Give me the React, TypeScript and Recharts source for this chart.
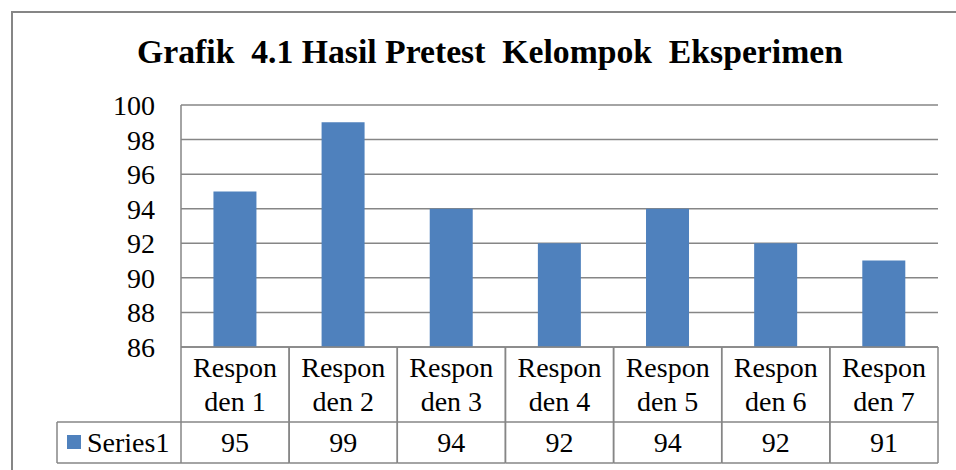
import React from "react";
import { BarChart, Bar, XAxis, YAxis, CartesianGrid } from "recharts";

const title = "Grafik  4.1 Hasil Pretest  Kelompok  Eksperimen";
const categories = [
  "Responden 1",
  "Responden 2",
  "Responden 3",
  "Responden 4",
  "Responden 5",
  "Responden 6",
  "Responden 7",
];
const categoryLabelLines = [
  ["Respon", "den 1"],
  ["Respon", "den 2"],
  ["Respon", "den 3"],
  ["Respon", "den 4"],
  ["Respon", "den 5"],
  ["Respon", "den 6"],
  ["Respon", "den 7"],
];
const seriesName = "Series1";
const series1 = [95, 99, 94, 92, 94, 92, 91];
const yTicks = [86, 88, 90, 92, 94, 96, 98, 100];

const data = categories.map((c, i) => ({ category: c, value: series1[i] }));

const W = 956;
const H = 470;
const Y_AXIS_W = 181;
const X_AXIS_H = 123;
const MARGIN = { top: 105, right: 18, bottom: 0, left: 0 };
const PLOT_W = W - MARGIN.left - MARGIN.right - Y_AXIS_W;
const FONT = "'Liberation Serif', 'Times New Roman', serif";
const LINE = "#868686";
const BAR = "#4F81BD";
const FS = 28;

const YTick = (props: any) => {
  const { x, y, payload } = props;
  return (
    <text x={x} y={y + 10} textAnchor="end" fontFamily={FONT} fontSize={FS} fill="#000">
      {payload.value}
    </text>
  );
};

const XTick = (props: any) => {
  const { x, y, index } = props;
  const cellW = PLOT_W / categories.length;
  const left = x - cellW / 2;
  const right = x + cellW / 2;
  const r1 = y + 75;
  const r2 = y + 116;
  const lines = categoryLabelLines[index] || [];
  const legendW = 124;
  return (
    <g>
      <line x1={left} y1={y} x2={right} y2={y} stroke={LINE} strokeWidth={1.5} />
      <line x1={left} y1={r1} x2={right} y2={r1} stroke={LINE} strokeWidth={1.5} />
      <line x1={left} y1={r2} x2={right} y2={r2} stroke={LINE} strokeWidth={1.5} />
      <line x1={left} y1={y} x2={left} y2={r2} stroke={LINE} strokeWidth={1.5} />
      <line x1={right} y1={y} x2={right} y2={r2} stroke={LINE} strokeWidth={1.5} />
      <text x={x} y={y + 30} textAnchor="middle" fontFamily={FONT} fontSize={FS} fill="#000">
        {lines[0]}
      </text>
      <text x={x} y={y + 64} textAnchor="middle" fontFamily={FONT} fontSize={FS} fill="#000">
        {lines[1]}
      </text>
      <text x={x} y={y + 105} textAnchor="middle" fontFamily={FONT} fontSize={FS} fill="#000">
        {series1[index]}
      </text>
      {index === 0 && (
        <g>
          <line x1={left - legendW} y1={r1} x2={left} y2={r1} stroke={LINE} strokeWidth={1.5} />
          <line x1={left - legendW} y1={r2} x2={left} y2={r2} stroke={LINE} strokeWidth={1.5} />
          <line x1={left - legendW} y1={r1} x2={left - legendW} y2={r2} stroke={LINE} strokeWidth={1.5} />
          <rect x={left - legendW + 10} y={r1 + 13} width={14} height={14} fill={BAR} />
          <text x={left - legendW + 30} y={y + 105} fontFamily={FONT} fontSize={FS} fill="#000">
            {seriesName}
          </text>
        </g>
      )}
    </g>
  );
};

export default function App() {
  return (
    <div style={{ position: "relative", width: W, height: H, overflow: "hidden", background: "#fff" }}>
      <style>{"html,body{margin:0;padding:0;overflow:hidden;}"}</style>
      <div style={{ position: "absolute", left: 11, top: 11, width: W, height: 1.5, background: LINE }} />
      <div style={{ position: "absolute", left: 11, top: 11, width: 1.5, height: H, background: LINE }} />
      <div
        style={{
          position: "absolute",
          left: 490 - 400,
          width: 800,
          top: 32,
          textAlign: "center",
          fontFamily: FONT,
          fontWeight: "bold",
          fontSize: 33.7,
          lineHeight: "40px",
          color: "#000",
          whiteSpace: "pre",
        }}
      >
        {title}
      </div>
      <div style={{ position: "absolute", left: 0, top: 0 }}>
        <BarChart width={W} height={H} data={data} margin={MARGIN} barCategoryGap="30%">
          <CartesianGrid horizontal={true} vertical={false} stroke={LINE} strokeWidth={1.5} />
          <XAxis
            dataKey="category"
            height={X_AXIS_H}
            axisLine={false}
            tickLine={false}
            tickSize={0}
            tickMargin={0}
            interval={0}
            tick={<XTick />}
          />
          <YAxis
            width={Y_AXIS_W}
            domain={[86, 100]}
            ticks={yTicks}
            interval={0}
            axisLine={{ stroke: LINE, strokeWidth: 1.5 }}
            tickLine={false}
            tickSize={0}
            tickMargin={26}
            tick={<YTick />}
          />
          <Bar dataKey="value" fill={BAR} isAnimationActive={false} />
        </BarChart>
      </div>
    </div>
  );
}
